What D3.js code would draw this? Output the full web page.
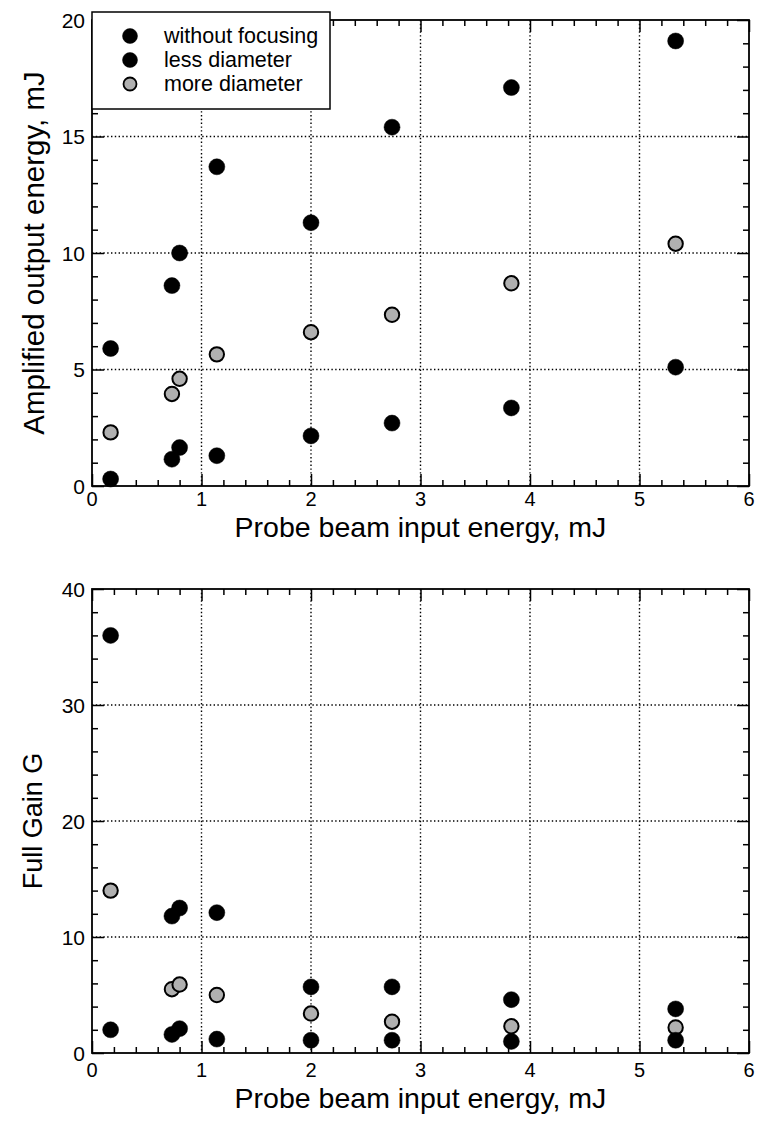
<!DOCTYPE html>
<html><head><meta charset="utf-8">
<script src="https://cdn.jsdelivr.net/npm/d3@7"></script>
<style>
body{margin:0;background:#fff}
svg{display:block}
text{font-family:"Liberation Sans",Arial,Helvetica,sans-serif;fill:#000}
</style>
</head><body><svg id="c" width="757" height="1123"></svg>
<script>
// ---- data ----
const xInput      = [0.17, 0.73, 0.80, 1.14, 2.00, 2.74, 3.83, 5.33];
const outWithout  = [0.3, 1.15, 1.65, 1.3, 2.15, 2.7, 3.35, 5.1];
const outLess     = [5.9, 8.6, 10.0, 13.7, 11.3, 15.4, 17.1, 19.1];
const outMore     = [2.3, 3.95, 4.6, 5.65, 6.6, 7.35, 8.7, 10.4];
const gainWithout = [2.0, 1.6, 2.1, 1.2, 1.1, 1.1, 1.0, 1.1];
const gainLess    = [36.0, 11.8, 12.5, 12.1, 5.7, 5.7, 4.6, 3.8];
const gainMore    = [14.0, 5.5, 5.9, 5.0, 3.4, 2.7, 2.3, 2.2];
const seriesNames = ["without focusing", "less diameter", "more diameter"];
const xTicks      = [0, 1, 2, 3, 4, 5, 6];
const topYTicks   = [0, 5, 10, 15, 20];
const botYTicks   = [0, 10, 20, 30, 40];
const xTitle      = "Probe beam input energy, mJ";
const topYTitle   = "Amplified output energy, mJ";
const botYTitle   = "Full Gain G";

const svg = d3.select("#c");
const L = 92, R = 749;
const GRAY = "#b0b0b0";

function panel(o) {
  const {top, bottom, yMax, yTicks, yMinorStep, series, yTitle, yTitleSize, labOff, titleOff} = o;
  const x = d3.scaleLinear().domain([0, 6]).range([L, R]);
  const y = d3.scaleLinear().domain([0, yMax]).range([bottom, top]);
  const g = svg.append("g");
  const xMinor = d3.range(0, 6.0001, 0.2).map(v => +v.toFixed(2)).filter(v => !xTicks.includes(v));
  const yMinor = d3.range(0, yMax + 0.0001, yMinorStep).filter(v => !yTicks.includes(v));

  // dotted grid
  g.append("g").selectAll("line").data(xTicks.slice(1, -1)).join("line")
    .attr("x1", d => x(d)).attr("x2", d => x(d)).attr("y1", top).attr("y2", bottom)
    .attr("stroke", "#000").attr("stroke-width", 1.4).attr("stroke-dasharray", "1.4,2.4");
  g.append("g").selectAll("line").data(yTicks.slice(1, -1)).join("line")
    .attr("y1", d => y(d)).attr("y2", d => y(d)).attr("x1", L).attr("x2", R)
    .attr("stroke", "#000").attr("stroke-width", 1.4).attr("stroke-dasharray", "1.4,2.4");

  // axes with inward ticks on all four sides
  const mk = (axis, tr) => {
    const a = g.append("g").attr("transform", tr).call(axis);
    a.select(".domain").remove();
    a.selectAll("line").attr("stroke", "#000").attr("stroke-width", 1.5);
    return a;
  };
  mk(d3.axisBottom(x).tickValues(xTicks).tickSize(-12).tickFormat(""), `translate(0,${bottom})`);
  mk(d3.axisBottom(x).tickValues(xMinor).tickSize(-6).tickFormat(""), `translate(0,${bottom})`);
  mk(d3.axisTop(x).tickValues(xTicks).tickSize(-12).tickFormat(""), `translate(0,${top})`);
  mk(d3.axisTop(x).tickValues(xMinor).tickSize(-6).tickFormat(""), `translate(0,${top})`);
  mk(d3.axisLeft(y).tickValues(yTicks).tickSize(-12).tickFormat(""), `translate(${L},0)`);
  mk(d3.axisLeft(y).tickValues(yMinor).tickSize(-6).tickFormat(""), `translate(${L},0)`);
  mk(d3.axisRight(y).tickValues(yTicks).tickSize(-12).tickFormat(""), `translate(${R},0)`);
  mk(d3.axisRight(y).tickValues(yMinor).tickSize(-6).tickFormat(""), `translate(${R},0)`);

  // border
  g.append("rect").attr("x", L).attr("y", top).attr("width", R - L).attr("height", bottom - top)
    .attr("fill", "none").attr("stroke", "#000").attr("stroke-width", 1.8);

  // tick labels
  g.append("g").selectAll("text").data(xTicks).join("text")
    .attr("x", d => x(d)).attr("y", bottom + labOff).attr("text-anchor", "middle")
    .attr("dominant-baseline", "central").attr("font-size", 20).text(d => d);
  g.append("g").selectAll("text").data(yTicks).join("text")
    .attr("x", L - 7).attr("y", d => y(d)).attr("text-anchor", "end")
    .attr("dominant-baseline", "central").attr("font-size", 21).text(d => d);

  // titles
  g.append("text").attr("x", (L + R) / 2).attr("y", bottom + titleOff)
    .attr("text-anchor", "middle").attr("dominant-baseline", "central")
    .attr("font-size", 28.5).text(xTitle);
  g.append("text").attr("transform", `translate(33,${(top + bottom) / 2}) rotate(-90)`)
    .attr("text-anchor", "middle").attr("dominant-baseline", "central")
    .attr("font-size", yTitleSize).text(yTitle);

  // points: gray first, then black
  [2, 0, 1].forEach(si => {
    g.append("g").selectAll("circle").data(series[si]).join("circle")
      .attr("cx", (d, i) => x(xInput[i])).attr("cy", d => y(d))
      .attr("r", si === 2 ? 7.2 : 8)
      .attr("fill", si === 2 ? GRAY : "#000")
      .attr("stroke", "#000").attr("stroke-width", si === 2 ? 2 : 0.5);
  });
}

panel({top: 20, bottom: 486, yMax: 20, yTicks: topYTicks, yMinorStep: 1,
       series: [outWithout, outLess, outMore], yTitle: topYTitle, yTitleSize: 29.5,
       labOff: 13, titleOff: 41});
panel({top: 589, bottom: 1053, yMax: 40, yTicks: botYTicks, yMinorStep: 2,
       series: [gainWithout, gainLess, gainMore], yTitle: botYTitle, yTitleSize: 27,
       labOff: 17, titleOff: 45});

// legend (in top panel, overlapping the top border)
const lg = svg.append("g");
lg.append("rect").attr("x", 92).attr("y", 12).attr("width", 238).attr("height", 97)
  .attr("fill", "#fff").attr("stroke", "#000").attr("stroke-width", 1.5);
const legY = [36, 60, 84];
seriesNames.forEach((name, i) => {
  lg.append("circle").attr("cx", 130).attr("cy", legY[i]).attr("r", i === 2 ? 6.5 : 7.5)
    .attr("fill", i === 2 ? GRAY : "#000").attr("stroke", "#000").attr("stroke-width", i === 2 ? 1.8 : 0.5);
  lg.append("text").attr("x", 164).attr("y", legY[i]).attr("dominant-baseline", "central")
    .attr("font-size", 21.5).text(name);
});
</script>
</body></html>
